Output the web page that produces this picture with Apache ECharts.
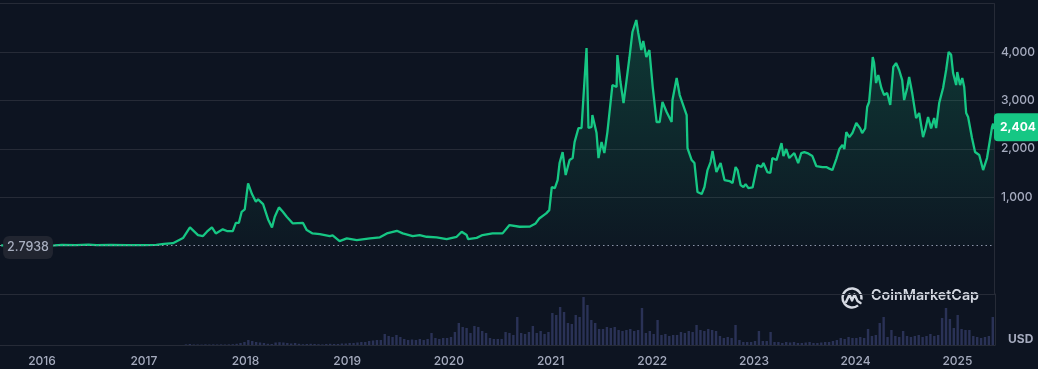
<!DOCTYPE html>
<html>
<head>
<meta charset="utf-8">
<script src="https://cdn.jsdelivr.net/npm/echarts@6/dist/echarts.min.js"></script>
<style>
  html, body { margin: 0; padding: 0; background: #0d1421; }
  #chart { width: 1038px; height: 369px; }
</style>
</head>
<body>
<div id="chart"></div>
<script>
// ---- DATA ----
const priceDates = [
  '2015-08-07','2015-09-15','2015-11-01','2016-01-01','2016-02-15','2016-03-13','2016-05-01','2016-06-17','2016-07-15','2016-09-01',
  '2016-11-01','2017-01-01','2017-02-15','2017-03-15','2017-04-16','2017-05-22','2017-06-16','2017-07-15','2017-08-02','2017-08-16',
  '2017-09-03','2017-09-17','2017-10-12','2017-10-27','2017-11-17','2017-11-28','2017-12-09','2017-12-19','2017-12-30','2018-01-11',
  '2018-01-25','2018-02-08','2018-02-16','2018-03-06','2018-03-24','2018-04-07','2018-04-17','2018-05-02','2018-05-16','2018-05-30',
  '2018-06-21','2018-07-27','2018-08-10','2018-08-31','2018-09-26','2018-11-01','2018-11-11','2018-12-06','2019-01-01','2019-02-06',
  '2019-03-25','2019-04-30','2019-05-25','2019-06-30','2019-07-21','2019-08-26','2019-09-20','2019-10-15','2019-11-20','2019-12-26',
  '2020-01-31','2020-02-18','2020-03-07','2020-03-12','2020-04-12','2020-05-03','2020-06-08','2020-07-14','2020-08-08','2020-09-13',
  '2020-10-19','2020-11-10','2020-11-23','2020-12-18','2020-12-29','2021-01-07','2021-01-18','2021-01-28','2021-02-04','2021-02-15',
  '2021-02-26','2021-03-12','2021-03-23','2021-03-30','2021-04-13','2021-04-24','2021-04-28','2021-05-12','2021-05-19','2021-05-30',
  '2021-06-02','2021-06-17','2021-06-24','2021-07-05','2021-07-15','2021-07-26','2021-08-13','2021-08-28','2021-08-31','2021-09-11',
  '2021-09-22','2021-10-02','2021-10-13','2021-10-24','2021-11-07','2021-11-14','2021-11-25','2021-12-02','2021-12-13','2021-12-24',
  '2022-01-05','2022-01-12','2022-01-19','2022-01-30','2022-02-09','2022-02-24','2022-03-14','2022-03-17','2022-04-01','2022-04-12',
  '2022-05-07','2022-05-10','2022-05-25','2022-06-04','2022-06-15','2022-06-30','2022-07-10','2022-07-21','2022-08-01','2022-08-08',
  '2022-08-22','2022-09-06','2022-09-20','2022-10-08','2022-10-19','2022-10-30','2022-11-06','2022-11-17','2022-11-27','2022-12-05',
  '2022-12-15','2022-12-30','2023-01-16','2023-01-31','2023-02-07','2023-02-21','2023-03-04','2023-03-11','2023-03-26','2023-04-13',
  '2023-04-20','2023-04-30','2023-05-11','2023-05-29','2023-06-12','2023-06-23','2023-07-04','2023-07-15','2023-08-02','2023-08-16',
  '2023-09-07','2023-09-21','2023-10-02','2023-10-13','2023-10-27','2023-11-07','2023-11-18','2023-11-25','2023-12-02','2023-12-13',
  '2023-12-24','2023-12-31','2024-01-07','2024-01-21','2024-01-28','2024-02-08','2024-02-15','2024-02-22','2024-03-01','2024-03-06',
  '2024-03-11','2024-03-18','2024-03-26','2024-04-06','2024-04-16','2024-04-27','2024-05-08','2024-05-19','2024-05-29','2024-06-09',
  '2024-06-20','2024-06-27','2024-07-08','2024-07-15','2024-07-26','2024-08-09','2024-08-20','2024-09-03','2024-09-11','2024-09-21',
  '2024-10-02','2024-10-13','2024-10-20','2024-10-31','2024-11-14','2024-11-25','2024-12-04','2024-12-13','2024-12-20','2024-12-31',
  '2025-01-04','2025-01-14','2025-01-22','2025-01-29','2025-02-05','2025-02-12','2025-02-26','2025-03-09','2025-03-24','2025-04-07',
  '2025-04-14','2025-04-21','2025-04-28','2025-05-09','2025-05-13','2025-05-16'
];
const prices = [
  2.7938,0.9,1.0,0.95,5,14,9,19,11,12,
  11,8,13,35,50,155,376,217,196,286,
  376,252,335,300,300,471,471,698,748,1285,
  1064,905,955,857,541,376,595,789,698,595,
  458,471,320,252,238,196,210,93,148,113,
  148,170,252,306,252,196,217,182,170,134,
  182,286,217,134,160,217,252,252,424,389,
  390,458,560,665,733,1209,1188,1353,1704,1932,
  1457,1766,1808,2138,2428,2428,2800,4080,2428,2450,
  2696,2324,1808,2138,1911,2345,3316,3275,3936,3378,
  2944,3378,3874,4411,4659,4390,4039,4225,3895,4039,
  3275,3300,2552,2552,2965,2758,2552,3006,3460,3109,
  2696,2014,1766,1704,1105,1064,1209,1560,1725,1953,
  1519,1704,1353,1333,1291,1622,1560,1250,1209,1270,
  1188,1200,1663,1622,1704,1519,1500,1808,1766,2117,
  1849,1994,1808,1911,1704,1911,1932,1911,1849,1643,
  1622,1622,1590,1560,1787,1994,2076,1994,2345,2241,
  2324,2300,2531,2420,2324,2420,2862,2965,3481,3895,
  3770,3357,3522,3254,3109,3150,2903,3688,3770,3626,
  3419,3006,3254,3481,3150,2634,2738,2241,2400,2655,
  2420,2634,2428,2944,3254,3626,4000,3940,3564,3316,
  3585,3316,3460,3275,2738,2655,2221,1932,1870,1560,
  1580,1808,1800,2448,2520,2404
];
// volume (billion USD), one bar every 14 days starting volStart
const volStart = '2017-06-01';
const volStepDays = 14;
const volumes = [
  0.6,1,0.5,0.5,0.4,0.6,0.5,0.6,0.5,0.6,0.5,0.6,0.8,1.2,
  2,3,5,4,3,2.5,2,
  1.2,1,2.5,2.8,2.5,2,1.5,2,1.2,
  0.8,1,1.2,1,0.8,0.6,1,1.2,1,1,1.5,1.5,2,
  2,2.5,3,3,
  4,4.5,5,5,
  11,9,8,10,8,
  6,5,5.5,5,6,5,6,12,
  7,6,7,7,8,
  13,22,18,17,12,19,18,14,12,
  7,6,6,6,
  13,12,10,28,
  12,11,13,19,12,14,11,13,
  32,30,38,33,
  22,21,30,
  28,48,40,
  25,22,16,
  16,18,17,18,
  15,14,15,16,14,15,
  37,
  12,14,11,25,
  10,11,9,10,10,
  13,12,14,13,
  20,
  15,14,16,15,14,
  9,7,8,7,
  20,
  5,3,3,3,4,
  14,
  4,4,13,
  3,3,2,3,2.5,3,2,2,2.5,3,2,2,2.5,3,3,4,5,
  7,6,8,7,7,8,7,
  16,
  9,10,22,
  28,
  8,15,9,8,14,9,8,
  9,10,8,9,11,9,10,
  27,37,26,
  17,30,16,15,
  15,9,8,7,8,
  9,28
];
const yearTicks = ['2016','2017','2018','2019','2020','2021','2022','2023','2024','2025'];
const priceTicks = [1000, 2000, 3000, 4000];
const axisStart = '2015-08-03';
const axisEnd = '2025-05-16';
const lastPriceLabel = '2,404';
const firstPriceLabel = '2.7938';

// ---- CHART ----
const GREEN = '#16c784';
const GRIDC = '#262b37';
const LABELC = '#a5abbe';
const FONT = 'Inter, "Noto Sans", sans-serif';

const parse = s => +echarts.time.parse(s);
const priceData = priceDates.map((d, i) => [parse(d), prices[i]]);
const volData = volumes.map((v, i) => [parse(volStart) + i * volStepDays * 86400000, v]);
const yearValues = yearTicks.map(y => parse(y + '-01-01'));
const yearOf = v => yearTicks[yearValues.indexOf(v)] || '';
const fmt = v => String(v).replace(/\B(?=(\d{3})+(?!\d))/g, ',');
const xMin = parse(axisStart), xMax = parse(axisEnd);

const chart = echarts.init(document.getElementById('chart'), null, { renderer: 'canvas' });
const option = {
  backgroundColor: '#0d1421',
  animation: false,
  grid: [
    { left: 0, right: 43, top: 3.5, bottom: 75 },
    { left: 0, right: 43, top: 294, bottom: 24 }
  ],
  xAxis: [
    {
      type: 'value', gridIndex: 0, min: xMin, max: xMax,
      axisLine: { show: false }, axisTick: { show: false },
      axisLabel: { show: false }, splitLine: { show: false }
    },
    {
      type: 'value', gridIndex: 1, min: xMin, max: xMax,
      axisLine: { show: true, onZero: false, lineStyle: { color: GRIDC } },
      axisTick: { show: false },
      axisLabel: {
        customValues: yearValues,
        formatter: v => yearOf(v),
        color: LABELC, fontSize: 12, fontWeight: 500, fontFamily: FONT, margin: 10
      },
      splitLine: { show: false }
    }
  ],
  yAxis: [
    {
      type: 'value', gridIndex: 0, position: 'right', min: -1000, max: 5000, interval: 1000,
      axisLine: { show: true, onZero: false, lineStyle: { color: GRIDC } },
      axisTick: { show: false },
      axisLabel: {
        formatter: v => priceTicks.indexOf(v) >= 0 ? fmt(v) : '',
        color: LABELC, fontSize: 12, fontWeight: 500, fontFamily: FONT, margin: 7
      },
      splitLine: { lineStyle: { color: [GRIDC, 'rgba(0,0,0,0)', GRIDC, GRIDC, GRIDC, GRIDC, GRIDC] } }
    },
    {
      type: 'value', gridIndex: 1, position: 'right', min: 0, max: 51, interval: 51,
      axisLine: { show: true, onZero: false, lineStyle: { color: GRIDC } },
      axisTick: { show: false },
      axisLabel: {
        formatter: v => v === 0 ? 'USD' : '',
        color: LABELC, fontSize: 12, fontWeight: 'bold', fontFamily: FONT, margin: 13,
        verticalAlign: 'bottom'
      },
      splitLine: { lineStyle: { color: GRIDC } }
    }
  ],
  series: [
    {
      type: 'bar', xAxisIndex: 1, yAxisIndex: 1,
      data: volData, barWidth: 2.4,
      itemStyle: { color: '#2a3256' },
      silent: true
    },
    {
      type: 'line', xAxisIndex: 0, yAxisIndex: 0,
      data: priceData, showSymbol: false, symbol: 'none',
      lineStyle: { color: GREEN, width: 2.3 },
      areaStyle: {
        color: new echarts.graphic.LinearGradient(0, 0, 0, 1, [
          { offset: 0, color: 'rgba(22,199,132,0.3)' },
          { offset: 1, color: 'rgba(22,199,132,0.03)' }
        ])
      },
      z: 3,
      markLine: {
        silent: true, symbol: 'none',
        label: { show: false },
        lineStyle: { color: '#8b93a7', type: [1.5, 3], width: 1.2 },
        data: [{ yAxis: prices[0] }]
      },
      markPoint: {
        symbol: 'circle', symbolSize: 0, silent: true,
        data: [
          {
            coord: [priceData[priceData.length - 1][0], prices[prices.length - 1]],
            label: {
              show: true, position: 'right', distance: 0, formatter: lastPriceLabel,
              backgroundColor: GREEN, color: '#ffffff', fontWeight: 'bold',
              fontSize: 12, fontFamily: FONT, padding: [8, 5, 8, 6], borderRadius: 4,
              offset: [0, -2]
            }
          },
          {
            coord: [priceData[0][0], prices[0]],
            label: {
              show: true, position: 'right', distance: 2, formatter: firstPriceLabel,
              backgroundColor: '#212530', color: '#a8afc0', fontWeight: 500,
              fontSize: 12.5, fontFamily: FONT, padding: [5, 4, 5, 4], borderRadius: 6,
              offset: [0, 2]
            }
          }
        ]
      }
    }
  ],
  graphic: [
    {
      type: 'group', left: 840, top: 286, silent: true,
      children: [
        {
          type: 'arc', shape: { cx: 11, cy: 11, r: 9.5, startAngle: Math.PI * 0.28, endAngle: Math.PI * 2.05 },
          style: { stroke: '#d5d9e2', lineWidth: 2.4, fill: null }
        },
        {
          type: 'polyline', shape: { points: [[5, 15], [8.5, 7.5], [11, 13.5], [13.5, 7.5], [16.5, 14], [19.5, 16]] },
          style: { stroke: '#d5d9e2', lineWidth: 2.4, fill: null, lineJoin: 'round', lineCap: 'round' }
        }
      ]
    },
    {
      type: 'text', left: 871, top: 289, silent: true,
      style: { text: 'CoinMarketCap', fill: '#d5d9e2', font: '600 14.3px Inter, sans-serif' }
    }
  ]
};
chart.setOption(option);
</script>
</body>
</html>
